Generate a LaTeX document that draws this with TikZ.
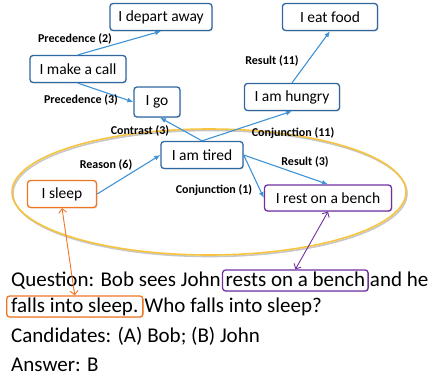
\documentclass[tikz,border=0pt]{standalone}
\usepackage{fontspec}
\setmainfont{Carlito}
\usetikzlibrary{arrows.meta,shapes.geometric,shadows}
\definecolor{boxblue}{RGB}{47,103,160}
\definecolor{edgeblue}{RGB}{62,146,214}
\definecolor{myorange}{RGB}{240,118,36}
\definecolor{mypurple}{RGB}{112,48,160}
\definecolor{ringgold}{RGB}{247,196,64}

\begin{document}
\begin{tikzpicture}[x=1pt,y=-1pt]
\tikzset{EventStyle/.style ={draw=boxblue, line width=1.3pt, rounded corners=3pt, fill=white,
    minimum height=27pt, inner xsep=6pt, font=\fontsize{15.5}{17}\selectfont,
    drop shadow={opacity=0.2, shadow xshift=1pt, shadow yshift=-1pt}}}
\tikzset{EdgeStyle/.style ={color=edgeblue, line width=1.1pt, -{Latex[length=6pt,width=5pt]}}}
\tikzset{RelStyle/.style ={font=\bfseries\fontsize{12}{13}\selectfont, inner sep=1pt}}
\tikzset{LinkStyle/.style ={line width=0.9pt, {Straight Barb[length=4pt]}-{Straight Barb[length=4pt]}}}
\tikzset{TextStyle/.style ={inner sep=0pt, font=\fontsize{21}{23}\selectfont}}
\tikzset{MarkStyle/.style ={TextStyle, fill=white, line width=1.3pt, rounded corners=3pt,
    inner xsep=3pt, inner ysep=3pt, text height=13pt, text depth=2pt,
    drop shadow={opacity=0.2, shadow xshift=1pt, shadow yshift=-1pt}}}
\tikzset{RingStyle/.style ={ellipse, line width=1.6pt, minimum width=394pt, minimum height=126pt}}
\useasboundingbox (0,0) rectangle (428,378);

% the ring round the events of the question
\node[RingStyle, draw=black!22] (ringshade) at (210,193.5) {};
\node[RingStyle, draw=ringgold] (ring) at (209,192) {};

% events
\node[EventStyle, minimum width=102pt] (depart) at (161,17) {I depart away};
\node[EventStyle, minimum width=95pt] (eat) at (330,17) {I eat food};
\node[EventStyle, minimum width=96pt] (call) at (78,69) {I make a call};
\node[EventStyle, minimum width=46pt, minimum height=30pt] (go) at (157,102) {I go};
\node[EventStyle, minimum width=95pt] (hungry) at (292,97) {I am hungry};
\node[EventStyle, minimum width=82pt] (tired) at (202,155) {I am tired};
\node[EventStyle, draw=myorange, minimum width=69pt] (sleep) at (62,194) {I sleep};
\node[EventStyle, draw=mypurple, minimum width=127pt, minimum height=26pt] (rest) at (328,198) {I rest on a bench};

% relations
\draw[EdgeStyle] (call.north) -- (depart.south);
\draw[EdgeStyle] (call.south) -- (go.west);
\draw[EdgeStyle] (tired.north) -- ([xshift=3pt]go.south);
\draw[EdgeStyle] (tired.north) -- (hungry.south);
\draw[EdgeStyle] (hungry.north) -- (eat.south);
\draw[EdgeStyle] (sleep.east) -- (tired.west);
\draw[EdgeStyle] (tired.east) -- (rest.west);
\draw[EdgeStyle] (tired.east) -- (rest.north);

\node[RelStyle] (prec2) at (75,39) {Precedence (2)};
\node[RelStyle] (prec3) at (81,100) {Precedence (3)};
\node[RelStyle] (contr3) at (140,131) {Contrast (3)};
\node[RelStyle] (conj11) at (293,133) {Conjunction (11)};
\node[RelStyle] (res11) at (272,61) {Result (11)};
\node[RelStyle] (reas6) at (106,165) {Reason (6)};
\node[RelStyle] (conj1) at (214,190) {Conjunction (1)};
\node[RelStyle] (res3) at (305,162) {Result (3)};

% the question
\node[TextStyle, anchor=base west] (q1) at (11,286) {Question: Bob sees John};
\node[MarkStyle, draw=mypurple, anchor=base west] (q2) at ([xshift=1pt]q1.base east) {rests on a bench};
\node[TextStyle, anchor=base west] (q3) at ([xshift=1pt]q2.base east) {and he};
\node[MarkStyle, draw=myorange, inner xsep=4.5pt, anchor=base west] (q4) at (6,312) {falls into sleep.};
\node[TextStyle, anchor=base west] (q5) at ([xshift=1pt]q4.base east) {Who falls into sleep?};
\node[TextStyle, anchor=base west] (cand) at (11,342) {Candidates: (A) Bob; (B) John};
\node[TextStyle, anchor=base west] (ans) at (11,371) {Answer: B};

\draw[LinkStyle, myorange] (sleep.south) -- (q4.north);
\draw[LinkStyle, mypurple] (rest.south) -- (q2.north);
\end{tikzpicture}
\end{document}
